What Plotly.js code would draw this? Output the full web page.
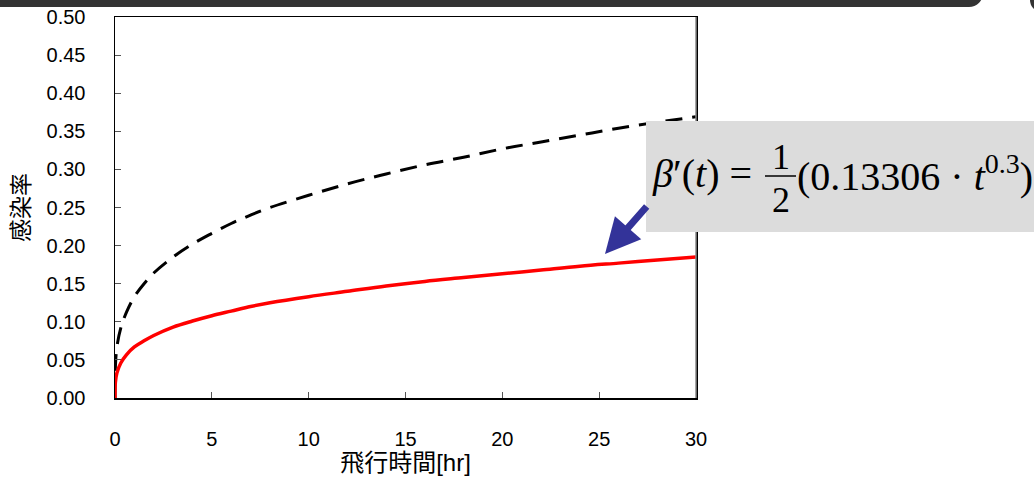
<!DOCTYPE html>
<html>
<head>
<meta charset="utf-8">
<script src="https://cdn.plot.ly/plotly-3.0.1.min.js"></script>
<style>
  html, body { margin: 0; padding: 0; background: #fff; overflow: hidden; }
  #wrap { position: relative; width: 1034px; height: 483px; }
  #chart { width: 1034px; height: 483px; }
  .bar1 { position: absolute; left: -20px; top: -20px; width: 1003px; height: 27px; background: #333333; border-radius: 0 0 14px 0; z-index: 5; }
  .bar2 { position: absolute; left: 1030px; top: -12px; width: 24px; height: 24px; background: #333333; border-radius: 12px; z-index: 5; }
</style>
</head>
<body>
<div id="wrap">
  <div id="chart"></div>
  <div class="bar1"></div>
  <div class="bar2"></div>
</div>
<script>
// ---- data ----
const flightHours = [0, 0.02, 0.1, 0.3, 0.6, 1, 1.5, 2, 3, 4, 5, 6, 7, 8, 10, 12, 14, 16, 18, 20, 22, 24, 26, 28, 30];
const infectionBlack = [0, 0.041, 0.067, 0.092, 0.113, 0.133, 0.150, 0.164, 0.185, 0.202, 0.216, 0.229, 0.240, 0.250, 0.266, 0.281, 0.294, 0.306, 0.316, 0.327, 0.336, 0.345, 0.354, 0.362, 0.369];
const infectionRed = [0, 0.021, 0.033, 0.046, 0.057, 0.067, 0.075, 0.082, 0.093, 0.101, 0.108, 0.114, 0.120, 0.125, 0.133, 0.140, 0.147, 0.153, 0.158, 0.163, 0.168, 0.173, 0.177, 0.181, 0.185];
const xTicks = [0, 5, 10, 15, 20, 25, 30];
const yTicks = [0, 0.05, 0.10, 0.15, 0.20, 0.25, 0.30, 0.35, 0.40, 0.45, 0.50];
const yTickText = ['0.00', '0.05', '0.10', '0.15', '0.20', '0.25', '0.30', '0.35', '0.40', '0.45', '0.50'];
const xTitle = '飛行時間[hr]';
const yTitle = '感染率';

// ---- layout geometry (pixels) ----
const W = 1034, H = 483;
const L = 115, R = 696, T = 17, B = 398;
const px = p => (p - L) / (R - L);
const py = p => (B - p) / (B - T);

const font = 'Liberation Sans, Arial, "Noto Sans CJK JP", sans-serif';
const serif = 'Liberation Serif, "Times New Roman", serif';

const traces = [
  {
    x: flightHours, y: infectionBlack, type: 'scatter', mode: 'lines',
    line: { color: '#000000', width: 3, dash: '17px,10px', shape: 'spline' },
    hoverinfo: 'skip'
  },
  {
    x: flightHours, y: infectionRed, type: 'scatter', mode: 'lines',
    line: { color: '#ff0000', width: 3.5, shape: 'spline' },
    hoverinfo: 'skip'
  }
];

const layout = {
  width: W, height: H,
  margin: { l: L, r: W - R, t: T, b: H - B, pad: 0 },
  paper_bgcolor: '#ffffff', plot_bgcolor: '#ffffff',
  showlegend: false,
  font: { family: font, color: '#000000', size: 20 },
  xaxis: {
    range: [0, 30], tickvals: xTicks, ticktext: xTicks.map(String),
    ticks: 'inside', ticklen: 6, tickcolor: '#555555', tickwidth: 1,
    showline: true, linecolor: '#000000', linewidth: 1.5, mirror: true,
    showgrid: false, zeroline: false, fixedrange: true,
    ticklabelstandoff: 22,
    tickfont: { family: font, size: 20, color: '#000000' },
    title: { text: xTitle, font: { family: font, size: 24, color: '#000000' }, standoff: 4 },
    automargin: false
  },
  yaxis: {
    range: [0, 0.5], tickvals: yTicks, ticktext: yTickText,
    ticks: 'inside', ticklen: 6, tickcolor: '#555555', tickwidth: 1,
    showline: true, linecolor: '#000000', linewidth: 1.5, mirror: true,
    showgrid: false, zeroline: false, fixedrange: true,
    ticklabelstandoff: 24,
    tickfont: { family: font, size: 20, color: '#000000' },
    title: { text: yTitle, font: { family: font, size: 23, color: '#000000' }, standoff: 10 },
    automargin: false
  },
  shapes: [
    { type: 'line', xref: 'paper', yref: 'paper', x0: 1, x1: 1, y0: 0, y1: 1,
      line: { color: '#8a8a8a', width: 1.5 }, layer: 'above' },
    { type: 'rect', xref: 'paper', yref: 'paper', x0: px(646), x1: px(1040), y0: py(232), y1: py(121),
      fillcolor: '#dcdcdc', line: { width: 0 }, layer: 'above' },
    { type: 'line', xref: 'paper', yref: 'paper', x0: px(765), x1: px(796), y0: py(176), y1: py(176),
      line: { color: '#000000', width: 1.5 }, layer: 'above' }
  ],
  annotations: [
    { xref: 'paper', yref: 'paper', x: px(650), y: py(173), xanchor: 'left', yanchor: 'middle',
      text: '<i>β</i>′(<i>t</i>) =', showarrow: false,
      font: { family: serif, size: 40, color: '#000000' } },
    { xref: 'paper', yref: 'paper', x: px(781), y: py(157), xanchor: 'center', yanchor: 'middle',
      text: '1', showarrow: false, font: { family: serif, size: 36, color: '#000000' } },
    { xref: 'paper', yref: 'paper', x: px(781), y: py(200), xanchor: 'center', yanchor: 'middle',
      text: '2', showarrow: false, font: { family: serif, size: 36, color: '#000000' } },
    { xref: 'paper', yref: 'paper', x: px(795), y: py(173), xanchor: 'left', yanchor: 'middle',
      text: '(0.13306 · <i>t</i><sup>0.3</sup>)', showarrow: false,
      font: { family: serif, size: 40, color: '#000000' } },
    { xref: 'paper', yref: 'paper', x: px(605), y: py(254), text: '', showarrow: true,
      ax: 43, ay: -49, arrowhead: 2, arrowsize: 1, arrowwidth: 7, arrowcolor: '#333399',
      standoff: 0, startstandoff: 0 }
  ]
};

Plotly.newPlot('chart', traces, layout, { displayModeBar: false, staticPlot: true });
</script>
</body>
</html>
